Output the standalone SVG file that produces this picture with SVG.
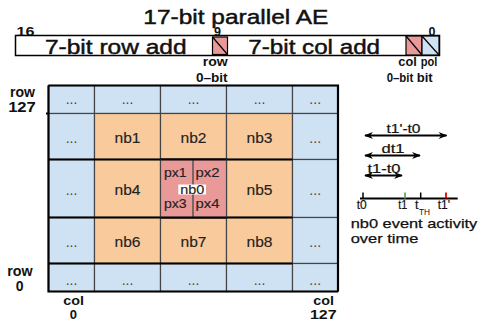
<svg xmlns="http://www.w3.org/2000/svg" width="478" height="321" viewBox="0 0 478 321">
<style>
text{font-family:"Liberation Sans",Arial,Helvetica,sans-serif;fill:#111}
.big{font-size:20px;stroke:#111;stroke-width:0.45}
.lbl{font-size:14px;font-weight:bold}
.lb2{font-size:13px;font-weight:bold}
.num{font-size:12.5px;font-weight:bold}
.sm{font-size:12px;font-weight:bold}
.cell{font-size:15px;fill:#222;stroke:#222;stroke-width:0.15}
.dots{font-size:14px;fill:#444}
.px{font-size:13.5px;fill:#222;stroke:#222;stroke-width:0.15}
.tl{font-size:12.5px;stroke:#111;stroke-width:0.2}
.b{fill:#cfe2f3;stroke:#444;stroke-width:1.2}
.o{fill:#f9cb9c;stroke:#444;stroke-width:1.2}
.p{fill:#ea9999;stroke:#444;stroke-width:1.2}
.thick{stroke:#000;stroke-width:2.2;fill:none}
.arr{stroke:#000;stroke-width:2;fill:none;marker-start:url(#ah);marker-end:url(#ah)}
</style>
<defs>
<marker id="ah" viewBox="0 0 10 8" refX="9" refY="4" markerWidth="10" markerHeight="7" markerUnits="userSpaceOnUse" orient="auto-start-reverse">
<path d="M0,0 L10,4 L0,8 L3,4 z" fill="#000"/>
</marker>
</defs>

<g id="title">
<text class="big" x="235.8" y="23.5" text-anchor="middle" textLength="185" lengthAdjust="spacingAndGlyphs">17-bit parallel AE</text>
</g>

<g id="ae-word">
<text class="num" x="25.5" y="35.5" text-anchor="middle" textLength="18" lengthAdjust="spacingAndGlyphs">16</text>
<text class="num" x="217.5" y="36" text-anchor="middle">9</text>
<text class="num" x="432" y="35.5" text-anchor="middle">0</text>
<rect x="15.5" y="35.5" width="424" height="20" fill="#fff" stroke="#000" stroke-width="1.5"/>
<text class="big" x="115.8" y="53.5" text-anchor="middle" textLength="141.7" lengthAdjust="spacingAndGlyphs">7-bit row add</text>
<text class="big" x="314.2" y="53.5" text-anchor="middle" textLength="131.7" lengthAdjust="spacingAndGlyphs">7-bit col add</text>
<rect x="212.5" y="37" width="15" height="17.5" fill="#ea9999" stroke="#000" stroke-width="1.2"/>
<line x1="212.5" y1="37" x2="227.5" y2="54.5" stroke="#000" stroke-width="1.2"/>
<rect x="406" y="36" width="16" height="19" fill="#ea9999" stroke="#000" stroke-width="1.2"/>
<line x1="406" y1="36" x2="422" y2="55" stroke="#000" stroke-width="1.2"/>
<rect x="422" y="36" width="17" height="19" fill="#cfe2f3" stroke="#000" stroke-width="1.2"/>
<line x1="422" y1="36" x2="439" y2="55" stroke="#000" stroke-width="1.2"/>
<text class="sm" x="215.2" y="66" text-anchor="middle" textLength="25" lengthAdjust="spacingAndGlyphs">row</text>
<text class="sm" x="211.8" y="82" text-anchor="middle" textLength="31.7" lengthAdjust="spacingAndGlyphs">0–bit</text>
<text class="sm" x="407.5" y="66" text-anchor="middle" textLength="18.4" lengthAdjust="spacingAndGlyphs">col</text>
<text class="sm" x="429" y="66" text-anchor="middle" textLength="16.6" lengthAdjust="spacingAndGlyphs">pol</text>
<text class="sm" x="400" y="82" text-anchor="middle" textLength="26.6" lengthAdjust="spacingAndGlyphs">0–bit</text>
<text class="sm" x="424.7" y="82" text-anchor="middle" textLength="16" lengthAdjust="spacingAndGlyphs">bit</text>
</g>

<g id="grid">
<rect class="b" x="48.5" y="85.5" width="46" height="28"/>
<rect class="b" x="94.5" y="85.5" width="66" height="28"/>
<rect class="b" x="160.5" y="85.5" width="66" height="28"/>
<rect class="b" x="226.5" y="85.5" width="66" height="28"/>
<rect class="b" x="292.5" y="85.5" width="45.5" height="28"/>
<rect class="b" x="48.5" y="113.5" width="46" height="46"/>
<rect class="o" x="94.5" y="113.5" width="66" height="46"/>
<rect class="o" x="160.5" y="113.5" width="66" height="46"/>
<rect class="o" x="226.5" y="113.5" width="66" height="46"/>
<rect class="b" x="292.5" y="113.5" width="45.5" height="46"/>
<rect class="b" x="48.5" y="159.5" width="46" height="58"/>
<rect class="o" x="94.5" y="159.5" width="66" height="58"/>
<rect class="o" x="226.5" y="159.5" width="66" height="58"/>
<rect class="b" x="292.5" y="159.5" width="45.5" height="58"/>
<rect class="b" x="48.5" y="217.5" width="46" height="46"/>
<rect class="o" x="94.5" y="217.5" width="66" height="46"/>
<rect class="o" x="160.5" y="217.5" width="66" height="46"/>
<rect class="o" x="226.5" y="217.5" width="66" height="46"/>
<rect class="b" x="292.5" y="217.5" width="45.5" height="46"/>
<rect class="b" x="48.5" y="263.5" width="46" height="28"/>
<rect class="b" x="94.5" y="263.5" width="66" height="28"/>
<rect class="b" x="160.5" y="263.5" width="66" height="28"/>
<rect class="b" x="226.5" y="263.5" width="66" height="28"/>
<rect class="b" x="292.5" y="263.5" width="45.5" height="28"/>
<path class="thick" d="M48.5,85.5 V291.5 H338 M48.5,159.5 H292.5 M48.5,217.5 H292.5 M48.5,263.5 H292.5 M48.5,85.5 H338 V291.5 M46,113.5 H49"/>
<text class="dots" x="71.5" y="104" text-anchor="middle">...</text>
<text class="dots" x="127.5" y="104" text-anchor="middle">...</text>
<text class="dots" x="193.5" y="104" text-anchor="middle">...</text>
<text class="dots" x="259.5" y="104" text-anchor="middle">...</text>
<text class="dots" x="315.2" y="104" text-anchor="middle">...</text>
<text class="dots" x="71.5" y="143" text-anchor="middle">...</text>
<text class="dots" x="315.2" y="143" text-anchor="middle">...</text>
<text class="dots" x="71.5" y="195" text-anchor="middle">...</text>
<text class="dots" x="315.2" y="195" text-anchor="middle">...</text>
<text class="dots" x="71.5" y="247" text-anchor="middle">...</text>
<text class="dots" x="315.2" y="247" text-anchor="middle">...</text>
<text class="dots" x="71.5" y="284.5" text-anchor="middle">...</text>
<text class="dots" x="127.5" y="284.5" text-anchor="middle">...</text>
<text class="dots" x="193.5" y="284.5" text-anchor="middle">...</text>
<text class="dots" x="259.5" y="284.5" text-anchor="middle">...</text>
<text class="dots" x="315.2" y="284.5" text-anchor="middle">...</text>
</g>

<g id="nb1"><text class="cell" x="127.5" y="143" text-anchor="middle" textLength="26" lengthAdjust="spacingAndGlyphs">nb1</text></g>
<g id="nb2"><text class="cell" x="193.5" y="143" text-anchor="middle" textLength="26" lengthAdjust="spacingAndGlyphs">nb2</text></g>
<g id="nb3"><text class="cell" x="259.5" y="143" text-anchor="middle" textLength="26" lengthAdjust="spacingAndGlyphs">nb3</text></g>
<g id="nb4"><text class="cell" x="127.5" y="195" text-anchor="middle" textLength="26" lengthAdjust="spacingAndGlyphs">nb4</text></g>
<g id="nb5"><text class="cell" x="259.5" y="195" text-anchor="middle" textLength="26" lengthAdjust="spacingAndGlyphs">nb5</text></g>
<g id="nb6"><text class="cell" x="127.5" y="246.5" text-anchor="middle" textLength="26" lengthAdjust="spacingAndGlyphs">nb6</text></g>
<g id="nb7"><text class="cell" x="193.5" y="246.5" text-anchor="middle" textLength="26" lengthAdjust="spacingAndGlyphs">nb7</text></g>
<g id="nb8"><text class="cell" x="259.5" y="246.5" text-anchor="middle" textLength="26" lengthAdjust="spacingAndGlyphs">nb8</text></g>

<g id="nb0">
<rect class="p" x="160.5" y="159.5" width="66" height="58"/>
<line x1="193" y1="159.5" x2="193" y2="217.5" stroke="#555" stroke-width="1.5"/>
<path class="thick" d="M160.5,159.5 H226.5 M160.5,217.5 H226.5"/>
<text class="px" x="175.3" y="177" text-anchor="middle" textLength="22.7" lengthAdjust="spacingAndGlyphs">px1</text>
<text class="px" x="207.5" y="177" text-anchor="middle" textLength="24" lengthAdjust="spacingAndGlyphs">px2</text>
<rect x="178.3" y="184.5" width="27.7" height="10" fill="#fff"/>
<text class="px" x="192.2" y="193.5" text-anchor="middle" textLength="24" lengthAdjust="spacingAndGlyphs">nb0</text>
<text class="px" x="175.3" y="207.5" text-anchor="middle" textLength="22.7" lengthAdjust="spacingAndGlyphs">px3</text>
<text class="px" x="207.5" y="207.5" text-anchor="middle" textLength="24" lengthAdjust="spacingAndGlyphs">px4</text>
</g>

<g id="axis-labels">
<text class="lbl" x="22.5" y="97" text-anchor="middle" textLength="25" lengthAdjust="spacingAndGlyphs">row</text>
<text class="lbl" x="22" y="112" text-anchor="middle" textLength="27.7" lengthAdjust="spacingAndGlyphs">127</text>
<text class="lbl" x="20" y="275.5" text-anchor="middle" textLength="25.4" lengthAdjust="spacingAndGlyphs">row</text>
<text class="lbl" x="19.7" y="290.5" text-anchor="middle">0</text>
<text class="lb2" x="73.7" y="304.5" text-anchor="middle" textLength="20.7" lengthAdjust="spacingAndGlyphs">col</text>
<text class="lb2" x="73.3" y="319" text-anchor="middle">0</text>
<text class="lb2" x="323.7" y="304.5" text-anchor="middle" textLength="20.7" lengthAdjust="spacingAndGlyphs">col</text>
<text class="lb2" x="323.3" y="319" text-anchor="middle" textLength="26.7" lengthAdjust="spacingAndGlyphs">127</text>
</g>

<g id="connectors">
<line class="arr" x1="365" y1="135.5" x2="446.5" y2="135.5"/>
<line class="arr" x1="365" y1="155.5" x2="420" y2="155.5"/>
<line class="arr" x1="365" y1="175.5" x2="402" y2="175.5"/>
<line x1="360" y1="198.5" x2="457.7" y2="198.5" stroke="#000" stroke-width="2"/>
<line x1="363" y1="192.5" x2="363" y2="198.5" stroke="#000" stroke-width="1.5"/>
<line x1="405" y1="192.5" x2="405" y2="198.5" stroke="#6aa84f" stroke-width="1.8"/>
<line x1="420.7" y1="192.5" x2="420.7" y2="198.5" stroke="#000" stroke-width="1.5"/>
<line x1="446" y1="192.5" x2="446" y2="198.5" stroke="#e00000" stroke-width="1.8"/>
</g>

<g id="timeline">
<text class="tl" x="403.5" y="133" text-anchor="middle" textLength="34" lengthAdjust="spacingAndGlyphs">t1'-t0</text>
<text class="tl" x="393" y="153.3" text-anchor="middle" textLength="23" lengthAdjust="spacingAndGlyphs">dt1</text>
<text class="tl" x="384" y="172.5" text-anchor="middle" textLength="33" lengthAdjust="spacingAndGlyphs">t1-t0</text>
<text class="tl" x="361.7" y="208.5" text-anchor="middle" textLength="10" lengthAdjust="spacingAndGlyphs">t0</text>
<text class="tl" x="402.7" y="208.5" text-anchor="middle" textLength="9" lengthAdjust="spacingAndGlyphs">t1</text>
<text class="tl" x="415" y="208.5">t</text>
<text x="419" y="215" font-size="8.5" textLength="11" lengthAdjust="spacingAndGlyphs">TH</text>
<text class="tl" x="443.8" y="208.5" text-anchor="middle" textLength="12.3" lengthAdjust="spacingAndGlyphs">t1'</text>
<text x="350.7" y="228.3" font-size="13.5" stroke="#111" stroke-width="0.25" textLength="126.6" lengthAdjust="spacingAndGlyphs">nb0 event activity</text>
<text x="350.7" y="243.3" font-size="13.5" stroke="#111" stroke-width="0.25" textLength="67.6" lengthAdjust="spacingAndGlyphs">over time</text>
</g>
</svg>
